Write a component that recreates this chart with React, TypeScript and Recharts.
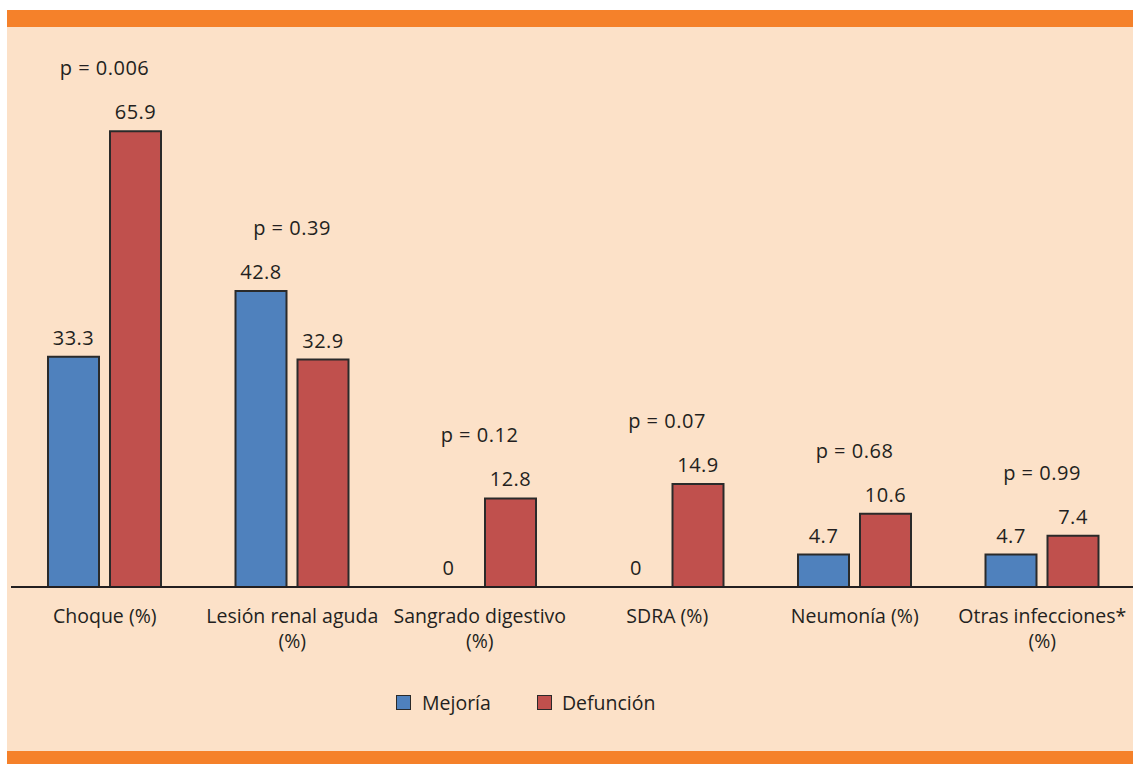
import { BarChart, Bar, XAxis, YAxis, LabelList } from 'recharts';

const categories = [
  'Choque (%)',
  'Lesión renal aguda\n(%)',
  'Sangrado digestivo\n(%)',
  'SDRA (%)',
  'Neumonía (%)',
  'Otras infecciones*\n(%)',
];
const mejoria = [33.3, 42.8, 0, 0, 4.7, 4.7];
const defuncion = [65.9, 32.9, 12.8, 14.9, 10.6, 7.4];
const pValues = ['p = 0.006', 'p = 0.39', 'p = 0.12', 'p = 0.07', 'p = 0.68', 'p = 0.99'];

const BLUE = '#4f81bd';
const RED = '#c0504d';
const EDGE = '#2a2a2a';
const INK = '#231f20';
const FONT = '"Open Sans", sans-serif';
const GAP = 11;

const data = categories.map((name, i) => ({
  name,
  mejoria: mejoria[i],
  defuncion: defuncion[i],
  p: pValues[i],
}));

const txt = { fill: INK, fontSize: 20, fontFamily: FONT, letterSpacing: 0.5 };

const CategoryTick = (props: any) => {
  const { x, y, payload } = props;
  const lines = String(payload.value).split('\n');
  return (
    <g transform={`translate(${x},${y})`}>
      {lines.map((line, i) => (
        <text key={i} x={0} y={28 + i * 25} textAnchor="middle" fill={INK} fontSize={19.5} fontFamily={FONT}>
          {line}
        </text>
      ))}
    </g>
  );
};

// labels for one category pair, worked out from the red bar's rectangle:
// both value labels plus the p-value above the taller bar
const PairLabels = (props: any) => {
  const { x, y, width, height, value } = props;
  const i = pValues.indexOf(value);
  if (i < 0 || !height) return null;
  const perUnit = height / defuncion[i];
  const base = y + height;
  const blueTop = base - mejoria[i] * perUnit;
  const top = Math.min(y, blueTop);
  const redCx = x + width / 2;
  const blueCx = redCx - width - GAP;
  const cx = redCx - (width + GAP) / 2;
  return (
    <g>
      <text x={blueCx} y={blueTop - 12} textAnchor="middle" {...txt}>
        {mejoria[i]}
      </text>
      <text x={redCx} y={y - 12} textAnchor="middle" {...txt}>
        {defuncion[i]}
      </text>
      <text x={cx} y={top - 56} textAnchor="middle" {...txt}>
        {value}
      </text>
    </g>
  );
};

export default function App() {
  return (
    <div style={{ position: 'absolute', left: 0, top: 0, width: 1133, height: 764, background: '#fff', overflow: 'hidden' }}>
      <div style={{ position: 'absolute', left: 7, top: 10, width: 1126, height: 17, background: '#f5812a' }} />
      <div style={{ position: 'absolute', left: 7, top: 27, width: 1126, height: 724, background: '#fce1c8' }} />
      <div style={{ position: 'absolute', left: 7, top: 751, width: 1126, height: 13, background: '#f5812a' }} />

      <div style={{ position: 'absolute', left: 0, top: 0 }}>
        <BarChart
          width={1140}
          height={764}
          data={data}
          margin={{ top: 103, right: 4, left: 11, bottom: 107 }}
          barSize={51}
          barGap={GAP}
        >
          <XAxis
            dataKey="name"
            interval={0}
            tickLine={false}
            axisLine={{ stroke: INK, strokeWidth: 2 }}
            tick={<CategoryTick />}
            height={70}
          />
          <YAxis hide domain={[0, 70]} />
          <Bar dataKey="mejoria" fill={BLUE} stroke={EDGE} strokeWidth={2} isAnimationActive={false} />
          <Bar dataKey="defuncion" fill={RED} stroke={EDGE} strokeWidth={2} isAnimationActive={false}>
            <LabelList dataKey="p" content={<PairLabels />} />
          </Bar>
        </BarChart>
      </div>

      <div
        style={{
          position: 'absolute',
          left: 396,
          top: 689,
          display: 'flex',
          alignItems: 'center',
          fontFamily: FONT,
          fontSize: 19.5,
          color: INK,
        }}
      >
        <span style={{ width: 13, height: 13, background: BLUE, border: `1.5px solid ${EDGE}`, display: 'inline-block' }} />
        <span style={{ marginLeft: 11, marginRight: 46 }}>Mejoría</span>
        <span style={{ width: 13, height: 13, background: RED, border: `1.5px solid ${EDGE}`, display: 'inline-block' }} />
        <span style={{ marginLeft: 10 }}>Defunción</span>
      </div>
    </div>
  );
}
